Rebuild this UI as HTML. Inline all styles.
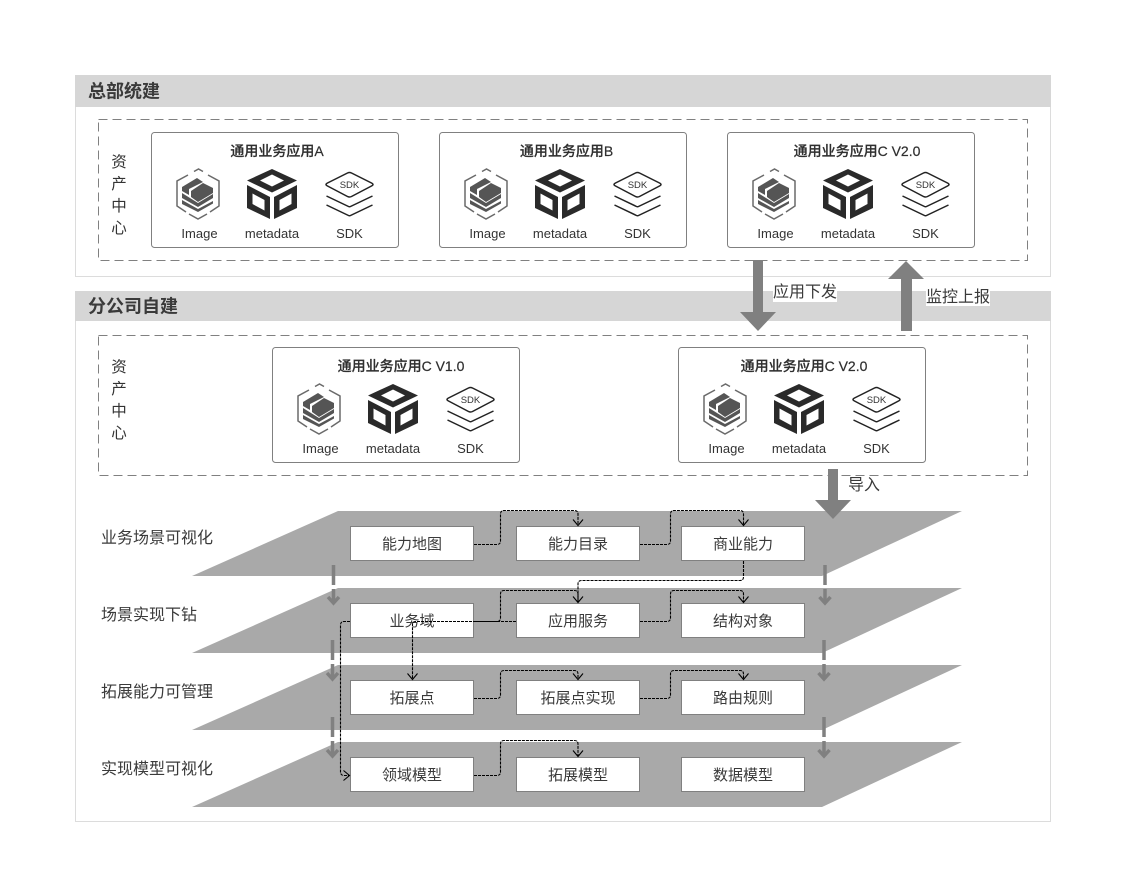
<!DOCTYPE html>
<html>
<head>
<meta charset="utf-8">
<style>
html,body{margin:0;padding:0;background:#fff;}
svg{display:block;}
text{font-family:"Liberation Sans","Noto Sans CJK SC",sans-serif;fill:#333;}
.hd{font-size:18px;font-weight:700;fill:#3a3a3a;}
.side{font-size:15.500px;text-anchor:middle;}
.title{font-size:14px;font-weight:500;text-anchor:middle;fill:#2e2e2e;stroke:#2e2e2e;stroke-width:.2px;}
.il{font-size:13px;text-anchor:middle;fill:#333;}
.sdk{font-size:9.500px;text-anchor:middle;fill:#333;}
.bx{font-size:15px;text-anchor:middle;fill:#3a3a3a;}
.ll{font-size:16px;fill:#3a3a3a;}
.ar{font-size:16px;fill:#3a3a3a;}
.c{fill:none;stroke:#000;stroke-width:1.100;stroke-dasharray:3 1;}
.h{fill:none;stroke:#000;stroke-width:1.100;}
.g{fill:none;stroke:#808080;stroke-width:3.500;stroke-dasharray:20 4;}
.gh{fill:none;stroke:#808080;stroke-width:3.500;}
</style>
</head>
<body>
<svg width="1126" height="881" viewBox="0 0 1126 881" xmlns="http://www.w3.org/2000/svg">
<defs>
<g id="ico">
  <!-- hex image icon -->
  <g transform="translate(47,62)">
    <path d="M-4,-22.500 L0.500,-25 L5,-22.500 M10,-19 L21,-13 L21,12 L12,18 M-10,-19 L-21,-13 L-21,12 L-12,18 M-9,20 L0,25 L9,20" fill="none" stroke="#6a6a6a" stroke-width="1.500"/>
    <path d="M-16,-7 L-1,-16 L5,-12 L-9,-5 L-9,1 L-16,-3 Z" fill="#555"/>
    <path d="M-7,-3 L5,-11 L15,-6 L15,-1 L0,8 L-7,3 Z" fill="#555"/>
    <path d="M-16,-1 L0,9 L15,0 L15,4 L0,13 L-16,4 Z" fill="#555"/>
    <path d="M-16,6 L0,15 L15,7 L15,9.500 L0,18 L-16,10 Z" fill="#555"/>
  </g>
  <!-- metadata icon -->
  <g transform="translate(121,62)">
    <path fill-rule="evenodd" d="M0,-25 L25,-13.500 L0,-1.500 L-25,-13.500 Z M0,-19.500 L-12,-13.500 L0,-7.500 L12,-13.500 Z" fill="#2a2a2a"/>
    <path fill-rule="evenodd" d="M-25,-9 L-2,3 L-2,25 L-25,14 Z M-19.500,-0.500 L-19.500,10 L-7.500,16.500 L-7.500,6 Z" fill="#2a2a2a"/>
    <path fill-rule="evenodd" d="M25,-9 L2,3 L2,25 L25,14 Z M19.500,-0.500 L19.500,10 L7.500,16.500 L7.500,6 Z" fill="#2a2a2a"/>
  </g>
  <!-- sdk icon -->
  <g transform="translate(198.500,62)" fill="none" stroke="#222" stroke-width="1.500">
    <path d="M-22,-11 Q-25,-9.500 -22,-8 L-2,2.500 Q0,3.500 2,2.500 L22,-8 Q25,-9.500 22,-11 L2,-21 Q0,-22 -2,-21 Z"/>
    <path d="M-23,2 L-1,12.500 Q0,13 1,12.500 L23,2"/>
    <path d="M-23,11 L-1,21.500 Q0,22 1,21.500 L23,11"/>
  </g>
</g>
</defs>

<!-- sections -->
<rect x="75.500" y="75.500" width="975" height="201" fill="#fff" stroke="#dcdcdc"/>
<rect x="75" y="75" width="976" height="32" fill="#d6d6d6"/>
<text x="88" y="97.500" class="hd">总部统建</text>
<rect x="75.500" y="291.500" width="975" height="530" fill="#fff" stroke="#dcdcdc"/>
<rect x="75" y="291" width="976" height="30" fill="#d6d6d6"/>
<text x="88" y="312.500" class="hd">分公司自建</text>

<!-- dashed containers -->
<rect x="98.500" y="119.500" width="929" height="141" fill="none" stroke="#808080" stroke-dasharray="9 5"/>
<rect x="98.500" y="335.500" width="929" height="140" fill="none" stroke="#808080" stroke-dasharray="9 5"/>

<text x="119" y="167" class="side">资</text>
<text x="119" y="189" class="side">产</text>
<text x="119" y="211" class="side">中</text>
<text x="119" y="233" class="side">心</text>
<text x="119" y="372" class="side">资</text>
<text x="119" y="394" class="side">产</text>
<text x="119" y="416" class="side">中</text>
<text x="119" y="438" class="side">心</text>

<!-- cards top -->
<g transform="translate(151,132)">
  <rect x="0.500" y="0.500" width="247" height="115" rx="3" fill="#fff" stroke="#808080"/>
  <text x="126" y="24" class="title">通用业务应用A</text>
  <use href="#ico"/>
  <text x="198.500" y="56" class="sdk">SDK</text>
  <text x="48.500" y="106" class="il">Image</text><text x="121" y="106" class="il">metadata</text><text x="198.500" y="106" class="il">SDK</text>
</g>
<g transform="translate(439,132)">
  <rect x="0.500" y="0.500" width="247" height="115" rx="3" fill="#fff" stroke="#808080"/>
  <text x="127.500" y="24" class="title">通用业务应用B</text>
  <use href="#ico"/>
  <text x="198.500" y="56" class="sdk">SDK</text>
  <text x="48.500" y="106" class="il">Image</text><text x="121" y="106" class="il">metadata</text><text x="198.500" y="106" class="il">SDK</text>
</g>
<g transform="translate(727,132)">
  <rect x="0.500" y="0.500" width="247" height="115" rx="3" fill="#fff" stroke="#808080"/>
  <text x="130" y="24" class="title">通用业务应用C V2.0</text>
  <use href="#ico"/>
  <text x="198.500" y="56" class="sdk">SDK</text>
  <text x="48.500" y="106" class="il">Image</text><text x="121" y="106" class="il">metadata</text><text x="198.500" y="106" class="il">SDK</text>
</g>
<!-- cards bottom -->
<g transform="translate(272,347)">
  <rect x="0.500" y="0.500" width="247" height="115" rx="3" fill="#fff" stroke="#808080"/>
  <text x="129" y="24" class="title">通用业务应用C V1.0</text>
  <use href="#ico"/>
  <text x="198.500" y="56" class="sdk">SDK</text>
  <text x="48.500" y="106" class="il">Image</text><text x="121" y="106" class="il">metadata</text><text x="198.500" y="106" class="il">SDK</text>
</g>
<g transform="translate(678,347)">
  <rect x="0.500" y="0.500" width="247" height="115" rx="3" fill="#fff" stroke="#808080"/>
  <text x="126" y="24" class="title">通用业务应用C V2.0</text>
  <use href="#ico"/>
  <text x="198.500" y="56" class="sdk">SDK</text>
  <text x="48.500" y="106" class="il">Image</text><text x="121" y="106" class="il">metadata</text><text x="198.500" y="106" class="il">SDK</text>
</g>

<!-- big arrows -->
<path d="M753,260 H763 V312 H776 L758,331 L740,312 H753 Z" fill="#808080"/>
<path d="M901,331 H912 V279 H924 L906,261 L888,279 H901 Z" fill="#808080"/>
<rect x="773" y="282" width="64" height="20" fill="#fff"/>
<text x="773" y="297" class="ar">应用下发</text>
<rect x="926" y="288" width="64" height="18" fill="#fff"/>
<text x="926" y="302" class="ar">监控上报</text>
<text x="848" y="490" class="ar">导入</text>

<!-- planes -->
<polygon points="338,511 962,511 822,576 192,576" fill="#a9a9a9"/>
<polygon points="338,588 962,588 822,653 192,653" fill="#a9a9a9"/>
<polygon points="338,665 962,665 822,730 192,730" fill="#a9a9a9"/>
<polygon points="338,742 962,742 822,807 192,807" fill="#a9a9a9"/>

<path d="M828,469 H838 V500 H851 L833,519 L815,500 H828 Z" fill="#808080"/>

<text x="101" y="543" class="ll">业务场景可视化</text>
<text x="101" y="620" class="ll">场景实现下钻</text>
<text x="101" y="697" class="ll">拓展能力可管理</text>
<text x="101" y="774" class="ll">实现模型可视化</text>

<!-- gray dashed arrows -->
<path class="g" d="M333.500,565 V601"/><path class="gh" d="M328,597 L333.500,603 L339,597"/>
<path class="g" d="M332.500,640 V677"/><path class="gh" d="M327,673 L332.500,679 L338,673"/>
<path class="g" d="M332.500,717 V754"/><path class="gh" d="M327,750 L332.500,756 L338,750"/>
<path class="g" d="M825,565 V601"/><path class="gh" d="M819.500,597 L825,603 L830.500,597"/>
<path class="g" d="M824,640 V677"/><path class="gh" d="M818.500,673 L824,679 L829.500,673"/>
<path class="g" d="M824,717 V754"/><path class="gh" d="M818.500,750 L824,756 L829.500,750"/>

<!-- boxes -->
<g fill="#fff" stroke="#808080">
<rect x="350.500" y="526.500" width="123" height="34"/><rect x="516.500" y="526.500" width="123" height="34"/><rect x="681.500" y="526.500" width="123" height="34"/>
<rect x="350.500" y="603.500" width="123" height="34"/><rect x="516.500" y="603.500" width="123" height="34"/><rect x="681.500" y="603.500" width="123" height="34"/>
<rect x="350.500" y="680.500" width="123" height="34"/><rect x="516.500" y="680.500" width="123" height="34"/><rect x="681.500" y="680.500" width="123" height="34"/>
<rect x="350.500" y="757.500" width="123" height="34"/><rect x="516.500" y="757.500" width="123" height="34"/><rect x="681.500" y="757.500" width="123" height="34"/>
</g>
<g>
<text x="412" y="549" class="bx">能力地图</text><text x="578" y="549" class="bx">能力目录</text><text x="743" y="549" class="bx">商业能力</text>
<text x="412" y="626" class="bx">业务域</text><text x="578" y="626" class="bx">应用服务</text><text x="743" y="626" class="bx">结构对象</text>
<text x="412" y="703" class="bx">拓展点</text><text x="578" y="703" class="bx">拓展点实现</text><text x="743" y="703" class="bx">路由规则</text>
<text x="412" y="780" class="bx">领域模型</text><text x="578" y="780" class="bx">拓展模型</text><text x="743" y="780" class="bx">数据模型</text>
</g>

<!-- connectors -->
<path class="c" d="M474,544.500 H497 Q500.500,544.500 500.500,541 V514 Q500.500,510.500 504,510.500 H574.500 Q578,510.500 578,514 V525"/>
<path class="h" d="M573,519.500 L578,525.500 L583,519.500"/>
<path class="c" d="M640,544.500 H667 Q670.500,544.500 670.500,541 V514 Q670.500,510.500 674,510.500 H740 Q743.500,510.500 743.500,514 V525"/>
<path class="h" d="M738.500,519.500 L743.500,525.500 L748.500,519.500"/>
<path class="c" d="M743.500,561 V577 Q743.500,580.500 740,580.500 H581.500 Q578,580.500 578,584 V602"/>
<path class="c" d="M474,621.500 H497 Q500.500,621.500 500.500,618 V594 Q500.500,590.500 504,590.500 H574.500 Q578,590.500 578,594 V602"/>
<path class="h" d="M573,596.500 L578,602.500 L583,596.500"/>
<path class="c" d="M640,621.500 H667 Q670.500,621.500 670.500,618 V594 Q670.500,590.500 674,590.500 H740 Q743.500,590.500 743.500,594 V602"/>
<path class="h" d="M738.500,596.500 L743.500,602.500 L748.500,596.500"/>
<path class="c" d="M516,621.500 H415.500 Q412.500,621.500 412.500,624.500 V679"/>
<path class="h" d="M407.500,673.500 L412.500,679.500 L417.500,673.500"/>
<path class="c" d="M350,621.500 H344 Q340.500,621.500 340.500,625 V772 Q340.500,775.500 344,775.500 H349"/>
<path class="h" d="M343.500,770.500 L349.500,775.500 L343.500,780.500"/>
<path class="c" d="M474,698.500 H497 Q500.500,698.500 500.500,695 V674 Q500.500,670.500 504,670.500 H574.500 Q578,670.500 578,674 V679"/>
<path class="h" d="M573,673.500 L578,679.500 L583,673.500"/>
<path class="c" d="M640,698.500 H667 Q670.500,698.500 670.500,695 V674 Q670.500,670.500 674,670.500 H740 Q743.500,670.500 743.500,674 V679"/>
<path class="h" d="M738.500,673.500 L743.500,679.500 L748.500,673.500"/>
<path class="c" d="M474,775.500 H497 Q500.500,775.500 500.500,772 V744 Q500.500,740.500 504,740.500 H574.500 Q578,740.500 578,744 V756"/>
<path class="h" d="M573,750.500 L578,756.500 L583,750.500"/>
</svg>
</body>
</html>
